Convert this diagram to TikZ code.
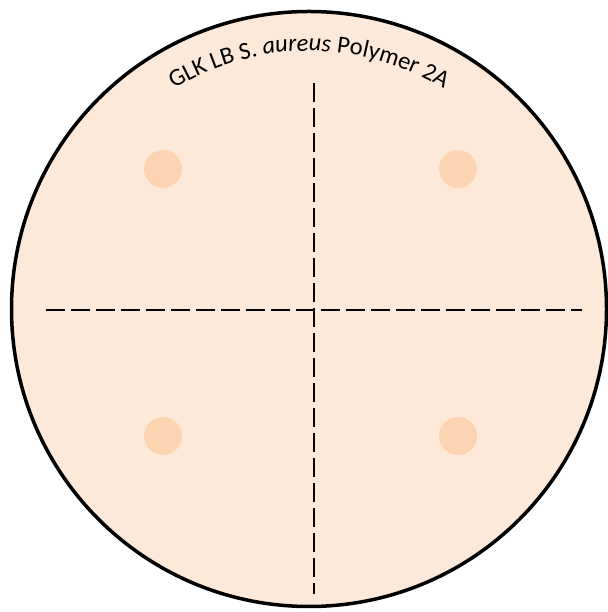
\documentclass[tikz,border=0pt]{standalone}
\usepackage{fontspec}
\setmainfont{Carlito}
\usepackage{tikz}
\usetikzlibrary{decorations.text}
\definecolor{platefill}{HTML}{FDE9DA}
\definecolor{platespot}{HTML}{FCD4B2}
\newcommand{\platefont}{\fontsize{24.5}{28}\selectfont}

\begin{document}
\begin{tikzpicture}[
    x=1pt, y=1pt,
    plate/.style={draw=black, line width=3.5pt, fill=platefill},
    spot/.style={fill=platespot, draw=none},
    divider/.style={draw=black, line width=2.2pt, dash pattern=on 19pt off 6pt},
]
\useasboundingbox (0,0) rectangle (607,612);

% Plate
\coordinate (centre) at (309,303);
\path[plate] (centre) circle[radius=297.5];

% Spots
\foreach \px/\py in {163/443, 458/443, 163/176, 458/176}
  \path[spot] (\px,\py) circle[radius=19];

% Quadrant dividers
\coordinate (hleft) at (46,302);
\coordinate (hright) at (582,302);
\coordinate (vtop) at (314,529);
\coordinate (vbottom) at (314,18);
\draw[divider] (hleft) -- (hright);
\draw[divider] (vtop) -- (vbottom);

% Label along the rim
\path[decorate, decoration={text along path, text align=center,
    text={|\platefont|GLK LB S. |\platefont\itshape|aureus|\platefont| Polymer 2A}}]
  (centre) ++(160:258) arc[start angle=160, end angle=20, radius=258];
\end{tikzpicture}
\end{document}
